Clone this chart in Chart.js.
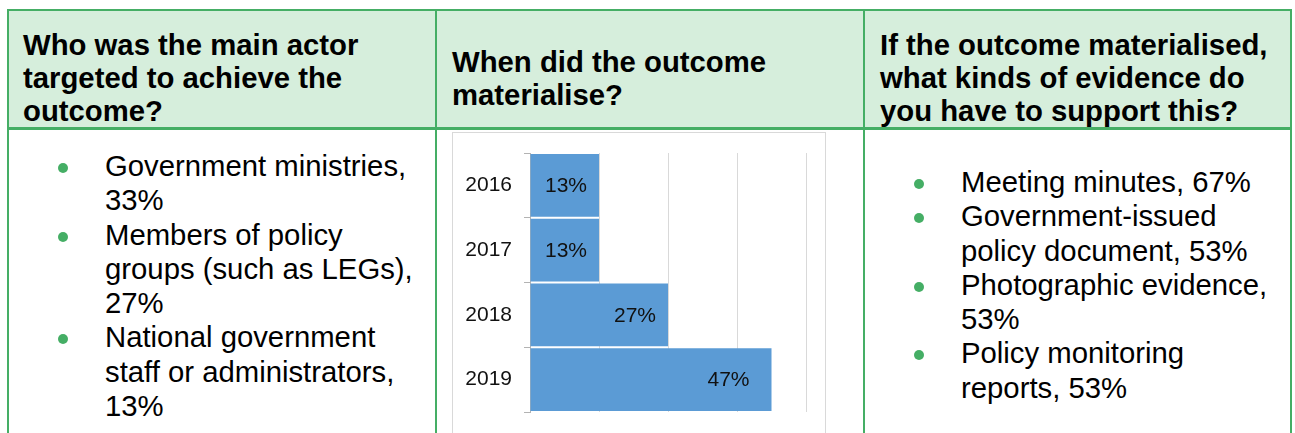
<!DOCTYPE html>
<html lang="en">
<head>
  <meta charset="UTF-8">
  <title>Outcome table</title>
  <script src="https://cdn.jsdelivr.net/npm/chart.js"></script>
  <style>
    html, body { margin: 0; padding: 0; background: #fff; overflow: hidden; }
    body { width: 1295px; height: 433px; position: relative; font-family: "Liberation Sans", Arial, sans-serif; color: #000; }
    .frame { position: absolute; left: 7px; top: 9px; width: 1285px; height: 480px; box-sizing: border-box; border: 2px solid #45ae65; }
    .headbg { position: absolute; left: 9px; top: 11px; width: 1281px; height: 117px; background: #d6eedc; }
    .hline { position: absolute; left: 7px; top: 127px; width: 1285px; height: 3px; background: #45ae65; }
    .vline { position: absolute; top: 9px; width: 2px; height: 480px; background: #45ae65; }
    .head { position: absolute; font-weight: bold; font-size: 29.3px; line-height: 33px; }
    .list { position: absolute; margin: 0; padding: 0; list-style: none; font-size: 29.3px; line-height: 34.3px; }
    .list li { position: relative; }
    .list li::before {
      content: ""; position: absolute; width: 10px; height: 10px; border-radius: 50%;
      background: #45ae65; top: 14px; left: -47px;
    }
    .chartbox { position: absolute; left: 452px; top: 132px; width: 374px; height: 340px; box-sizing: border-box; border: 1px solid #d9d9d9; }
    #grafico { position: absolute; left: 453px; top: 133px; }
  </style>
</head>
<body>
  <div class="headbg"></div>
  <div class="frame"></div>
  <div class="hline"></div>
  <div class="vline" style="left:435px"></div>
  <div class="vline" style="left:863px"></div>

  <div class="head" style="left:23px; top:28px; width:400px">Who was the main actor targeted to achieve the outcome?</div>
  <div class="head" style="left:452px; top:45px; width:400px">When did the outcome materialise?</div>
  <div class="head" style="left:880px; top:28px; width:400px">If the outcome materialised, what kinds of evidence do you have to support this?</div>

  <ul class="list" id="lista" style="left:105px; top:149px; width:321px"></ul>
  <ul class="list" id="listc" style="left:961px; top:165px; width:317px"></ul>

  <div class="chartbox"></div>
  <canvas id="grafico" width="372" height="300"></canvas>

  <script>
    // texto das colunas laterais
    const actores = ["Government ministries, 33%", "Members of policy groups (such as LEGs), 27%", "National government staff or administrators, 13%"];
    const evidencias = ["Meeting minutes, 67%", "Government-issued policy document, 53%", "Photographic evidence, 53%", "Policy monitoring reports, 53%"];

    // dados do grafico (respostas por ano, de 15)
    const anos = ["2016", "2017", "2018", "2019"];
    const respostas = [2, 2, 4, 7];
    const totalRespostas = 15;
    const maxEixo = 8;
    const passoEixo = 2;

    document.getElementById("lista").innerHTML = actores.map(t => `<li>${t}</li>`).join("");
    document.getElementById("listc").innerHTML = evidencias.map(t => `<li>${t}</li>`).join("");

    const pct = v => Math.round(v / totalRespostas * 100) + "%";

    const rotulos = {
      id: "rotulos",
      afterDatasetsDraw(chart) {
        const ctx = chart.ctx;
        ctx.save();
        ctx.font = "21px 'Liberation Sans', Arial, sans-serif";
        ctx.fillStyle = "#111";
        ctx.textAlign = "right";
        ctx.textBaseline = "middle";
        chart.getDatasetMeta(0).data.forEach((bar, i) => {
          const recuo = respostas[i] > 5 ? 22 : 12;
          ctx.fillText(pct(respostas[i]), bar.x - recuo, bar.y + 1);
        });
        ctx.restore();
      }
    };

    Chart.defaults.font.family = "'Liberation Sans', Arial, sans-serif";

    new Chart(document.getElementById("grafico"), {
      type: "bar",
      data: {
        labels: anos,
        datasets: [{
          data: respostas,
          backgroundColor: "#5b9bd5",
          barPercentage: 0.97,
          categoryPercentage: 1
        }]
      },
      options: {
        indexAxis: "y",
        responsive: false,
        animation: false,
        layout: { padding: { left: 0, right: 19, top: 20, bottom: 21 } },
        plugins: { legend: { display: false }, tooltip: { enabled: false } },
        scales: {
          x: {
            min: 0, max: maxEixo,
            ticks: { display: false, stepSize: passoEixo },
            grid: { color: "#d9d9d9", drawTicks: false, tickLength: 0 },
            border: { display: false },
            afterFit(s) { s.height = 0; s.paddingLeft = 0; s.paddingRight = 0; }
          },
          y: {
            ticks: { color: "#111", font: { size: 21 }, padding: 12 },
            grid: { drawOnChartArea: false, drawTicks: true, tickLength: 6, color: "#b3b3b3" },
            border: { display: true, color: "#b3b3b3" },
            afterFit(s) { s.width = 77; s.paddingTop = 0; s.paddingBottom = 0; }
          }
        }
      },
      plugins: [rotulos]
    });
  </script>
</body>
</html>
